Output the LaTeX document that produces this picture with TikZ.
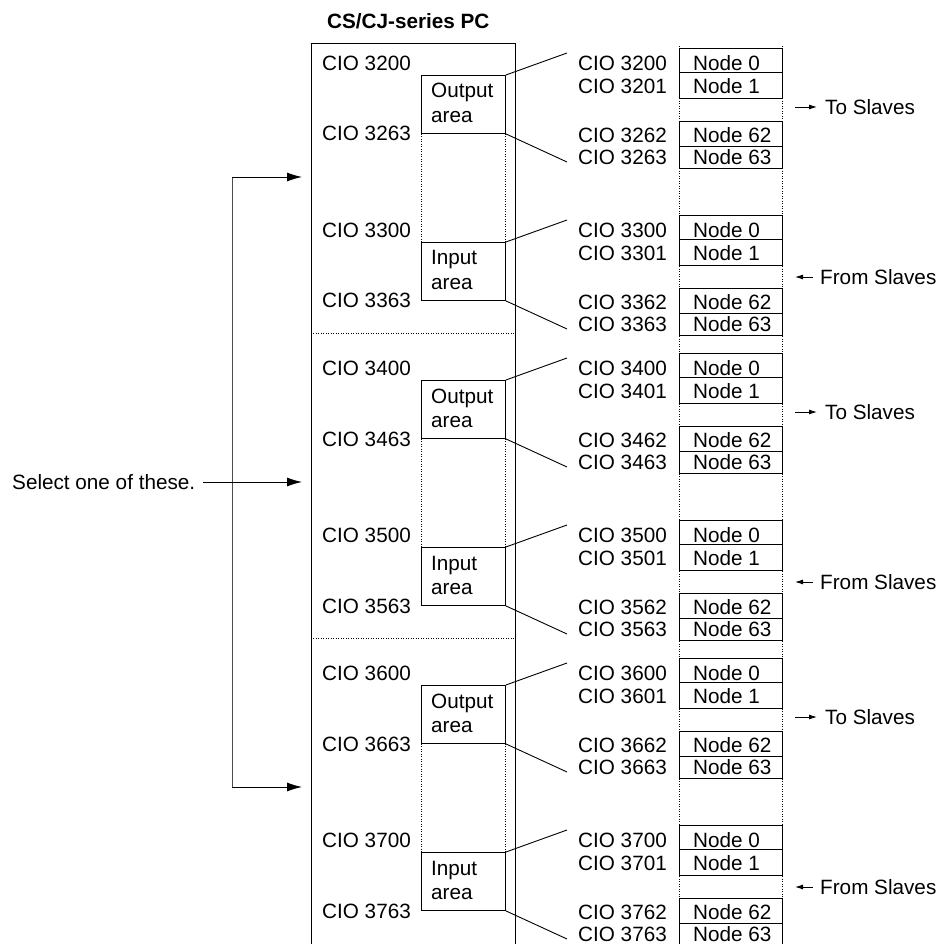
\documentclass[tikz,border=0pt]{standalone}
\usepackage{fontspec}
\setmainfont{Liberation Sans}
\usetikzlibrary{arrows.meta}
\begin{document}
\begin{tikzpicture}[x=1pt,y=-1pt,
  txt/.style={font=\fontsize{20.7}{24}\selectfont, inner sep=0pt},
  ln/.style={line width=0.9pt},
  dotline/.style={line width=0.9pt, dash pattern=on 1pt off 1.5pt},
  bigarrow/.style={line width=0.9pt,-{Latex[length=15pt,width=9pt]}},
  smallarrow/.style={line width=0.9pt,-{Latex[length=8pt,width=5pt]}},
  areabox/.style={draw, line width=0.9pt, inner sep=0pt, minimum width=84pt, minimum height=58pt, anchor=north west},
  rowbox/.style={draw, line width=0.9pt, inner sep=0pt, minimum width=103pt, anchor=north west},
]
\useasboundingbox (0,0) rectangle (951,944);

% title
\node[txt, font=\fontsize{20.7}{24}\selectfont\bfseries, anchor=base west] (title) at (327,28.5) {CS/CJ-series PC};

% main PC box (open at the bottom)
\draw[ln] (311,944) -- (311,43) -- (515,43) -- (515,944);

% dotted verticals of the right column
\draw[dotline] (679,46) -- (679,944);
\draw[dotline] (782,46) -- (782,944);

\foreach \g in {0,...,5}{
  \pgfmathsetmacro{\L}{63+305*floor(\g/2)+167*mod(\g,2)}
  \pgfmathtruncatemacro{\A}{32+\g}
  % left labels
  \node[txt, anchor=base west] (la\g) at (322,\L+7.5) {CIO \A00};
  \node[txt, anchor=base west] (lb\g) at (322,\L+78) {CIO \A63};
  % area box
  \node[areabox] (ab\g) at (421,\L+12) {};
  \ifodd\g\relax
    \node[txt, anchor=base west] (at\g) at (431,\L+35) {Input};
  \else
    \node[txt, anchor=base west] (at\g) at (431,\L+35) {Output};
  \fi
  \node[txt, anchor=base west] (aa\g) at (431,\L+59.5) {area};
  % connector lines
  \coordinate (tp\g) at (567,\L-10);
  \coordinate (bt\g) at (567,\L+99);
  \draw[ln] (ab\g.north east) -- (tp\g);
  \draw[ln] (ab\g.south east) -- (bt\g);
  % right column boxes
  \node[rowbox, minimum height=24pt] (r0\g) at (679,\L-15) {};
  \node[rowbox, minimum height=26pt] (r1\g) at (679,\L+9) {};
  \node[rowbox, minimum height=25pt] (r2\g) at (679,\L+58) {};
  \node[rowbox, minimum height=22pt] (r3\g) at (679,\L+83) {};
  % right labels
  \node[txt, anchor=base east] (ca\g) at (667,\L+7.5) {CIO \A00};
  \node[txt, anchor=base east] (cb\g) at (667,\L+30.5) {CIO \A01};
  \node[txt, anchor=base east] (cc\g) at (667,\L+79.5) {CIO \A62};
  \node[txt, anchor=base east] (cd\g) at (667,\L+101.5) {CIO \A63};
  \node[txt, anchor=base west] (na\g) at (693,\L+7.5) {Node 0};
  \node[txt, anchor=base west] (nb\g) at (693,\L+30.5) {Node 1};
  \node[txt, anchor=base west] (nc\g) at (693,\L+79.5) {Node 62};
  \node[txt, anchor=base west] (nd\g) at (693,\L+101.5) {Node 63};
  % to / from slaves
  \ifodd\g\relax
    \node[txt, anchor=base west] (sl\g) at (820,\L+54.5) {From Slaves};
    \coordinate (sa\g) at (795,\L+47);
    \draw[smallarrow, shorten <=7pt] (sl\g.west |- sa\g) -- (sa\g);
  \else
    \node[txt, anchor=base west] (sl\g) at (825,\L+51.5) {To Slaves};
    \coordinate (sa\g) at (795,\L+44);
    \draw[smallarrow, shorten >=8pt] (sa\g) -- (sa\g -| sl\g.west);
  \fi
}

% dotted verticals between output and input boxes
\foreach \g/\h in {0/1,2/3,4/5}{
  \draw[dotline] (ab\g.south west) -- (ab\h.north west);
  \draw[dotline] (ab\g.south east) -- (ab\h.north east);
}
% dotted separators
\draw[dotline] (313,333) -- (514,333);
\draw[dotline] (313,638) -- (514,638);

% selection bracket
\node[txt, anchor=base west] (sel) at (12,489.5) {Select one of these.};
\coordinate (bt) at (232,177);
\coordinate (bb) at (232,787);
\coordinate (t0) at (302,177);
\coordinate (t1) at (302,482);
\coordinate (t2) at (302,787);
\draw[ln, black!70] (bt) -- (bb);
\draw[bigarrow] (bt) -- (t0);
\draw[bigarrow] (bb) -- (t2);
\draw[bigarrow, shorten <=8pt] (sel.east |- t1) -- (t1);
\end{tikzpicture}
\end{document}
